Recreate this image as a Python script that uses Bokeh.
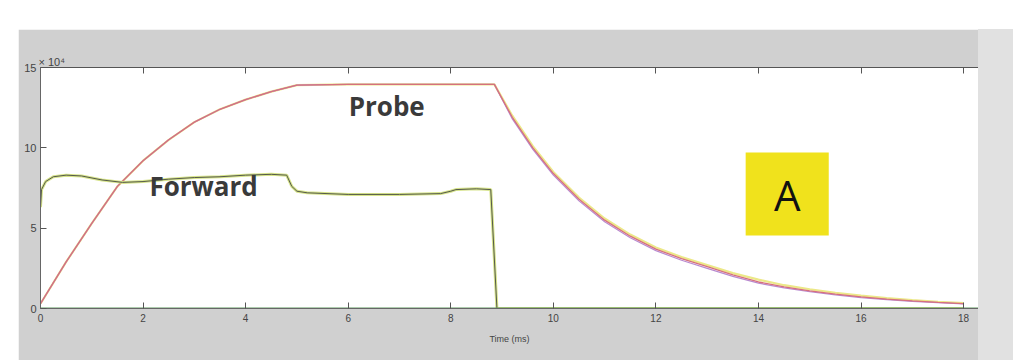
from bokeh.plotting import figure
from bokeh.models import LinearAxis, FixedTicker, Range1d, Label, BoxAnnotation
from bokeh.embed import file_html
from bokeh.resources import INLINE

# ---- data (values in units of 1e4) ----
probe_t = [0, 0.5, 1, 1.5, 2, 2.5, 3, 3.5, 4, 4.5, 5, 6, 7, 8, 8.85,
           9.2, 9.6, 10, 10.5, 11, 11.5, 12, 12.5, 13, 13.5, 14, 14.5,
           15, 15.5, 16, 16.5, 17, 17.5, 18]
probe_yellow = [0.3, 2.9, 5.3, 7.6, 9.2, 10.5, 11.6, 12.4, 13.0, 13.5, 13.9, 13.95, 13.95, 13.95, 13.95,
                12.0, 10.1, 8.5, 6.9, 5.6, 4.6, 3.8, 3.2, 2.7, 2.2, 1.8, 1.45,
                1.2, 0.98, 0.8, 0.64, 0.52, 0.42, 0.34]
probe_red = [0.3, 2.9, 5.3, 7.6, 9.2, 10.5, 11.6, 12.4, 13.0, 13.5, 13.9, 13.95, 13.95, 13.95, 13.95,
             11.9, 10.0, 8.4, 6.8, 5.5, 4.5, 3.7, 3.1, 2.6, 2.1, 1.65, 1.35,
             1.1, 0.9, 0.72, 0.58, 0.47, 0.38, 0.3]
probe_purple = [0.3, 2.9, 5.3, 7.6, 9.2, 10.5, 11.6, 12.4, 13.0, 13.5, 13.9, 13.95, 13.95, 13.95, 13.95,
                11.8, 9.9, 8.3, 6.7, 5.4, 4.4, 3.6, 3.0, 2.5, 2.0, 1.58, 1.28,
                1.05, 0.85, 0.68, 0.55, 0.44, 0.36, 0.28]

fwd_t = [0, 0.02, 0.1, 0.25, 0.5, 0.8, 1.2, 1.6, 2.0, 2.5, 3.0, 3.5, 4.0, 4.5, 4.8,
         4.9, 5.0, 5.2, 6.0, 7.0, 7.8, 8.0, 8.1, 8.5, 8.78, 8.9, 18]
fwd_v = [6.3, 7.4, 7.9, 8.2, 8.3, 8.25, 8.0, 7.85, 7.9, 8.05, 8.15, 8.2, 8.3, 8.35, 8.3,
         7.6, 7.3, 7.2, 7.1, 7.1, 7.15, 7.3, 7.4, 7.45, 7.4, 0, 0]

zero_t = [0, 18.29]
zero_v = [0, 0]

x_ticks = [0, 2, 4, 6, 8, 10, 12, 14, 16, 18]
y_ticks = [0, 5, 10, 15]

GRAY = "#d0d0d0"
LIGHT = "#e1e1e1"

p = figure(width=960, height=331, x_range=Range1d(0, 18.29), y_range=Range1d(0, 15),
           output_backend="svg", toolbar_location=None,
           min_border_left=22, min_border_top=38, min_border_right=0, min_border_bottom=52,
           border_fill_color=GRAY, background_fill_color="white", outline_line_color=None,
           margin=(29, 50, 0, 18),
           styles={"box-shadow": "35px 0px 0px 0px " + LIGHT})
p.grid.visible = False

p.title.text = "× 10⁴"
p.title.align = "left"
p.title.text_font_size = "11px"
p.title.text_font_style = "normal"
p.title.text_color = "#444444"
p.title.standoff = 0
p.title.offset = -2

for ax in p.xaxis:
    ax.ticker = FixedTicker(ticks=x_ticks)
    ax.major_tick_in = 6
    ax.major_tick_out = 0
    ax.minor_tick_line_color = None
    ax.axis_line_color = "#666666"
    ax.major_tick_line_color = "#555555"
    ax.major_label_text_font_size = "10px"
    ax.major_label_text_color = "#444444"
    ax.major_label_standoff = 5
    ax.axis_label = "Time (ms)"
    ax.axis_label_text_font_size = "9px"
    ax.axis_label_text_font_style = "normal"
    ax.axis_label_text_color = "#444444"
    ax.axis_label_standoff = 9

for ax in p.yaxis:
    ax.ticker = FixedTicker(ticks=y_ticks)
    ax.major_tick_in = 6
    ax.major_tick_out = 0
    ax.minor_tick_line_color = None
    ax.axis_line_color = "#666666"
    ax.major_tick_line_color = "#555555"
    ax.major_label_text_font_size = "11px"
    ax.major_label_text_color = "#444444"
    ax.major_label_standoff = 4
    ax.major_label_orientation = "horizontal"

top = LinearAxis(ticker=FixedTicker(ticks=x_ticks), major_tick_in=6, major_tick_out=0,
                 minor_tick_line_color=None, axis_line_color="#555555",
                 major_tick_line_color="#555555", major_label_text_alpha=0,
                 major_label_text_font_size="0px", major_label_standoff=0)
p.add_layout(top, "above")

p.line(probe_t, probe_yellow, line_color="#ece888", line_width=2.2)
p.line(probe_t, probe_purple, line_color="#b88ad0", line_width=1.2)
p.line(probe_t, probe_red, line_color="#d6707e", line_width=1.3)

p.line(fwd_t, fwd_v, line_color="#d6e38a", line_width=3)
p.line(fwd_t, fwd_v, line_color="#555a4a", line_width=1)

p.line(zero_t, zero_v, line_color="#5f9a5f", line_width=2.2)

p.add_layout(Label(x=6.75, y=12.6, text="Probe", text_align="center", text_baseline="middle",
                   text_font="Open Sans", text_font_style="bold", text_font_size="26px",
                   text_color="#3a3a3a"))
p.add_layout(Label(x=3.18, y=7.6, text="Forward", text_align="center", text_baseline="middle",
                   text_font="Open Sans", text_font_style="bold", text_font_size="26px",
                   text_color="#3a3a3a"))

p.add_layout(BoxAnnotation(left=13.75, right=15.37, bottom=4.54, top=9.71,
                           fill_color="#f0e21c", fill_alpha=1, line_color=None))
p.add_layout(Label(x=14.56, y=7.1, text="A", text_align="center", text_baseline="middle",
                   text_font="Open Sans", text_font_size="42px", text_color="#111111"))

open("out.html", "w").write(file_html(p, INLINE))
